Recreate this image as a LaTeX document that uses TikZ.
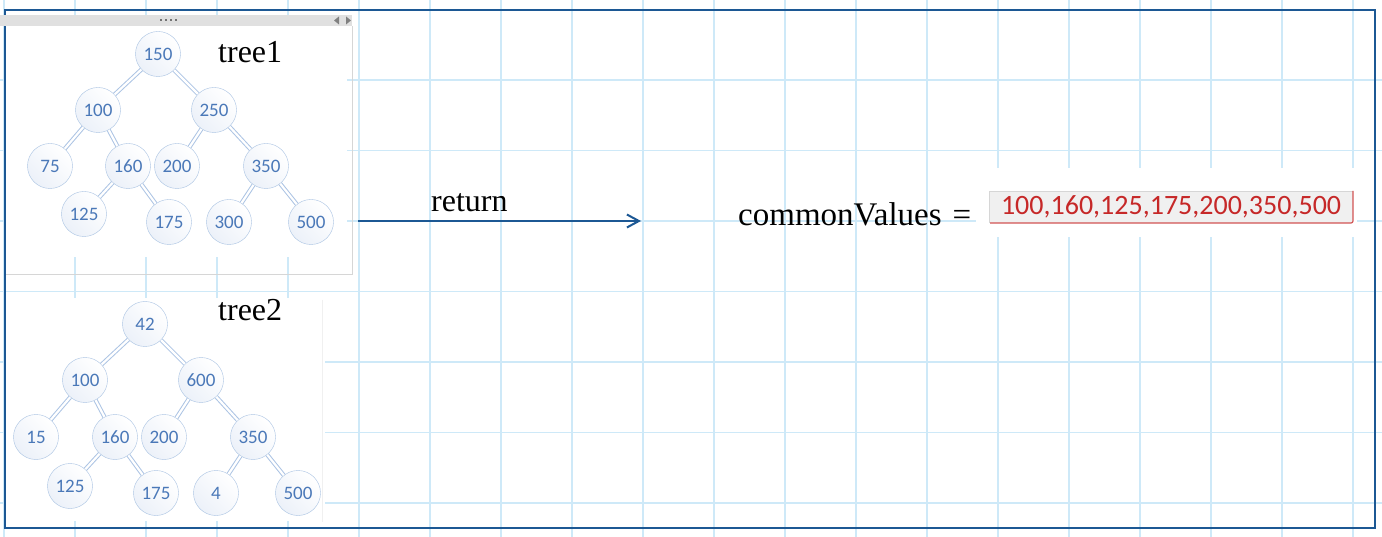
\documentclass[tikz,border=0pt]{standalone}
\usepackage{fontspec}
\setmainfont{Liberation Serif}
\newfontfamily\calibri{Carlito}
\usetikzlibrary{arrows.meta}
\definecolor{gridblue}{RGB}{206,233,248}
\definecolor{frameblue}{RGB}{28,88,148}
\definecolor{nodeline}{RGB}{168,194,226}
\definecolor{nodeshade}{RGB}{236,241,249}
\definecolor{numblue}{RGB}{74,120,184}
\definecolor{edgeblue}{RGB}{172,196,228}
\definecolor{bargray}{RGB}{224,224,224}
\definecolor{panelline}{RGB}{214,214,214}
\definecolor{resultred}{RGB}{198,40,40}
\begin{document}
\begin{tikzpicture}[x=1pt,y=-1pt,
    treenode/.style={circle, draw=nodeline, minimum size=45pt, inner sep=0pt, top color=white, bottom color=nodeshade, shading angle=-45, text=numblue, font=\calibri\fontsize{19}{19}\selectfont},
    treeedge/.style={draw=edgeblue, line width=1pt, double=white, double distance=2.2pt},
    labeltext/.style={inner sep=0pt, anchor=base west, font=\fontsize{32}{32}\selectfont}
    ]
    \useasboundingbox (0,0) rectangle (1382,537);
    % grid
    \foreach \x in {4,75,...,1353} \draw[gridblue, line width=1.2pt] (\x,0) -- (\x,537);
    \foreach \y in {80,150.5,...,505} \draw[gridblue, line width=1.2pt] (0,\y) -- (1382,\y);
    % panels
    \fill[white] (5,26) rectangle (347,257);
    \draw[panelline] (5,274) -- (352,274) -- (352,26);
    \fill[white] (5,298) rectangle (325,521);
    \draw[black!6] (322,300) -- (322,522);
    \fill[white] (976,168) rectangle (1357,237);
    \draw[frameblue, line width=2.8pt] (5,10) rectangle (1375,528);
    \fill[bargray] (0,15) rectangle (352,26);
    \foreach \x in {160,165,170,175} \fill[black!55] (\x,19.5) rectangle +(1.6,1.6);
    \fill[black!50] (334,20.5) -- (339,16.5) -- (339,24.5) -- cycle;
    \fill[black!50] (351,20.5) -- (346,16.5) -- (346,24.5) -- cycle;

    % tree1
    \node [treenode] (a150) at (158,54)  {150};
    \node [treenode] (a100) at (98,110)  {100};
    \node [treenode] (a250) at (214,110) {250};
    \node [treenode] (a75)  at (50,166)  {75};
    \node [treenode] (a160) at (128,166) {160};
    \node [treenode] (a200) at (177,166) {200};
    \node [treenode] (a350) at (266,166) {350};
    \node [treenode] (a125) at (84,214)  {125};
    \node [treenode] (a175) at (169,222) {175};
    \node [treenode] (a300) at (229,222) {300};
    \node [treenode] (a500) at (311,222) {500};

    \draw [treeedge] (a150) -- (a100);
    \draw [treeedge] (a150) -- (a250);
    \draw [treeedge] (a100) -- (a75);
    \draw [treeedge] (a100) -- (a160);
    \draw [treeedge] (a160) -- (a125);
    \draw [treeedge] (a160) -- (a175);
    \draw [treeedge] (a250) -- (a200);
    \draw [treeedge] (a250) -- (a350);
    \draw [treeedge] (a350) -- (a300);
    \draw [treeedge] (a350) -- (a500);

    % tree2
    \node [treenode] (b42)  at (145,324) {42};
    \node [treenode] (b100) at (85,380)  {100};
    \node [treenode] (b600) at (201,380) {600};
    \node [treenode] (b15)  at (36,437)  {15};
    \node [treenode] (b160) at (115,437) {160};
    \node [treenode] (b200) at (164,437) {200};
    \node [treenode] (b350) at (253,437) {350};
    \node [treenode] (b125) at (70,486)  {125};
    \node [treenode] (b175) at (156,493) {175};
    \node [treenode] (b4)   at (216,493) {4};
    \node [treenode] (b500) at (298,493) {500};

    \draw [treeedge] (b42) -- (b100);
    \draw [treeedge] (b42) -- (b600);
    \draw [treeedge] (b100) -- (b15);
    \draw [treeedge] (b100) -- (b160);
    \draw [treeedge] (b160) -- (b125);
    \draw [treeedge] (b160) -- (b175);
    \draw [treeedge] (b600) -- (b200);
    \draw [treeedge] (b600) -- (b350);
    \draw [treeedge] (b350) -- (b4);
    \draw [treeedge] (b350) -- (b500);

    \node [labeltext] (tree1) at (218,63)  {tree1};
    \node [labeltext] (tree2) at (218,321) {tree2};

    % return arrow
    \coordinate (retfrom) at (358,221);
    \coordinate (retto) at (641,221);
    \draw [frameblue, line width=2pt, -{Straight Barb[length=12pt,width=13pt]}] (retfrom) -- (retto);
    \node [labeltext] (ret) at (431,212) {return};

    % result
    \node [labeltext, font=\fontsize{33}{33}\selectfont] (common) at (738,226) {commonValues\hspace{11pt}=};
    \fill[black!6] (989,191) rectangle (1353,223);
    \draw[panelline] (989,223) -- (989,191) -- (1353,191);
    \draw[resultred!80, line width=1.2pt, rounded corners=2pt] (990,223) -- (1353,223) -- (1353,191);
    \node [inner sep=0pt, text=resultred, font=\calibri\fontsize{28}{28}\selectfont] (values) at (1171,207) {100,160,125,175,200,350,500};
  \end{tikzpicture}
\end{document}
